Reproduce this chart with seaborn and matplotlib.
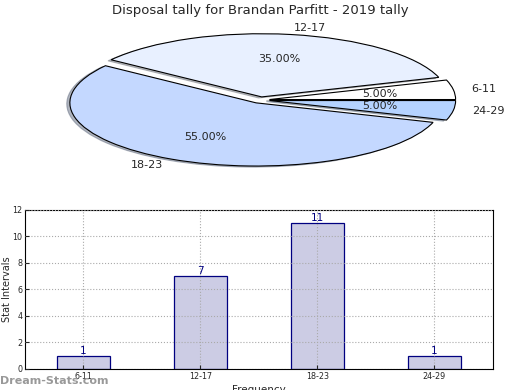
import matplotlib
matplotlib.use("Agg")
import matplotlib.pyplot as plt
import seaborn as sns
import pandas as pd

categories = ["6-11", "12-17", "18-23", "24-29"]
counts = [1, 7, 11, 1]
pie_colors = ["#ffffff", "#e8f0ff", "#c4d8ff", "#b5d3ff"]

sns.set_style("white")
plt.rcParams['font.family'] = ['DejaVu Sans']

fig = plt.figure(figsize=(5.2, 3.9), dpi=100)

# Pie
axp = fig.add_axes([0.053, 0.541, 0.895, 0.405])
wedges, texts, autotexts = axp.pie(
    counts, labels=categories, colors=pie_colors, autopct='%.2f%%',
    explode=[0.05] * len(counts),
    shadow=dict(ox=-0.012, oy=-0.012, shade=0.5), startangle=0,
    wedgeprops=dict(edgecolor='black', linewidth=0.8),
    textprops=dict(fontsize=8))
axp.set_aspect('auto')
axp.set_xlim(-1.25, 1.25)
axp.set_ylim(-1.25, 1.25)
fig.text(0.5, 0.972, "Disposal tally for Brandan Parfitt - 2019 tally",
         ha='center', va='center', fontsize=9.5)

# Bars
axb = fig.add_axes([0.048, 0.054, 0.9, 0.408])
df = pd.DataFrame({"interval": categories, "count": counts})
sns.barplot(data=df, x="interval", y="count", color="#ccccE4", saturation=1,
            edgecolor="navy", linewidth=0.9, width=0.45, ax=axb)
for i, v in enumerate(counts):
    axb.text(i, v, str(v), ha='center', va='bottom', color='navy', fontsize=7.5)
axb.set_xlim(-0.5, 3.5)
axb.set_ylim(0, 12)
axb.set_yticks(range(0, 13, 2))
axb.grid(True, linestyle=':', color='#aaaaaa', linewidth=0.8)
axb.set_axisbelow(False)
for sp in axb.spines.values():
    sp.set_visible(True)
    sp.set_color('black')
    sp.set_linewidth(0.8)
axb.tick_params(axis='both', labelsize=5.8, direction='in', length=3,
                left=True, bottom=True, pad=2)
axb.set_ylabel("Stat Intervals", fontsize=7)
axb.yaxis.set_label_coords(-0.028, 0.5)
axb.set_xlabel("Frequency", fontsize=7.5, labelpad=3)

fig.text(0.0, 0.022, "Dream-Stats.com", ha='left', va='center',
         fontsize=8, color='#999999', fontweight='bold')

fig.savefig("out.png", dpi=100)
